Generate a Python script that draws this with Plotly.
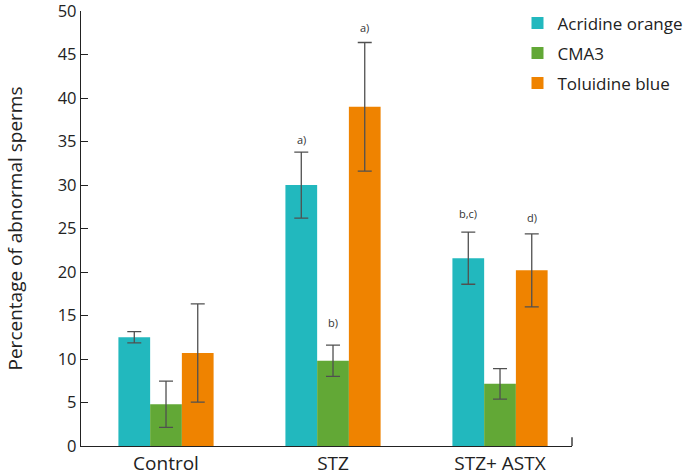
import plotly.graph_objects as go

groups = ["Control", "STZ", "STZ+ ASTX"]
series_names = ["Acridine orange", "CMA3", "Toluidine blue"]
acridine = [12.5, 30.0, 21.6]
acridine_err = [0.65, 3.8, 3.0]
cma3 = [4.8, 9.8, 7.15]
cma3_err = [2.65, 1.8, 1.75]
toluidine = [10.7, 39.0, 20.2]
toluidine_err = [5.65, 7.4, 4.2]
colors = ["#22B8BE", "#62A836", "#EF8300"]
y_ticks = [0, 5, 10, 15, 20, 25, 30, 35, 40, 45, 50]

# significance labels: group index, series index, label, label height
sig_groups = [1, 1, 1, 2, 2]
sig_series = [0, 1, 2, 0, 2]
sig_labels = ["a)", "b)", "a)", "b,c)", "d)"]
sig_heights = [35.3, 14.2, 48.1, 26.7, 26.3]

x = list(range(len(groups)))
values = [acridine, cma3, toluidine]
errors = [acridine_err, cma3_err, toluidine_err]

bargap = 0.43
bw = (1 - bargap) / 3

fig = go.Figure()
for name, v, e, c in zip(series_names, values, errors, colors):
    fig.add_trace(go.Bar(
        x=x, y=v, name=name, legendgroup=name, marker_color=c, marker_line_width=0,
        error_y=dict(type="data", array=e, visible=True, color="#505050",
                     thickness=1.3, width=7),
    ))

for g, s, lab, h in zip(sig_groups, sig_series, sig_labels, sig_heights):
    fig.add_annotation(x=g + (s - 1) * bw, y=h, text=lab, showarrow=False,
                       font=dict(size=11, color="#333333"), yanchor="middle")

# small end tick on x axis
fig.add_shape(type="line", xref="paper", yref="paper", x0=1, x1=1, y0=0, y1=0.02,
              line=dict(color="#222222", width=1.3))

fig.update_layout(
    width=683, height=475,
    margin=dict(l=81, r=111, t=11, b=29, autoexpand=False),
    paper_bgcolor="white", plot_bgcolor="white",
    barmode="group", bargap=bargap, bargroupgap=0,
    font=dict(family="Open Sans, Noto Sans, sans-serif", color="#222222", size=16),
    legend=dict(x=0.889, y=1.013, xanchor="left", yanchor="top",
                font=dict(size=17), tracegroupgap=5, itemsizing="constant",
                bgcolor="rgba(0,0,0,0)"),
    xaxis=dict(range=[-0.509, 2.431], tickmode="array", tickvals=x, ticktext=groups,
               showline=True, linecolor="#222222", linewidth=1.3, ticks="",
               showgrid=False, zeroline=False, tickfont=dict(size=19),
               ticklabeloverflow="allow"),
    yaxis=dict(range=[0, 50.02], tickmode="array", tickvals=y_ticks,
               showline=True, linecolor="#222222",
               linewidth=1.3, ticks="inside", ticklen=7, tickcolor="#222222",
               tickwidth=1.3, showgrid=False, zeroline=False,
               tickfont=dict(size=16.5), ticklabeloverflow="allow",
               title=dict(text="Percentage of abnormal sperms", font=dict(size=19),
                          standoff=30)),
)

fig.write_html("out.html", config={"displayModeBar": False},
               post_script="document.body.style.margin='0';")
